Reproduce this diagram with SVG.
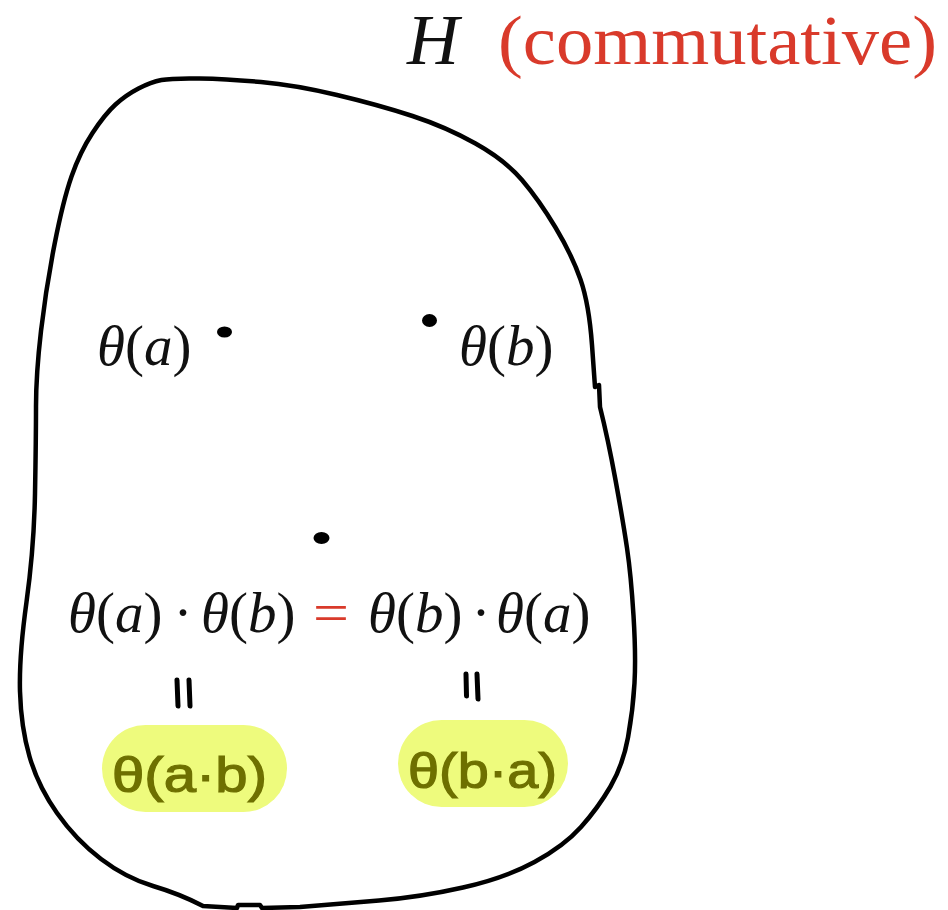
<svg xmlns="http://www.w3.org/2000/svg" width="948" height="910" viewBox="0 0 948 910">
  <style>
    .m { font-family: "Liberation Serif", "DejaVu Serif", serif; font-size: 57px; fill: #111; }
    .i { font-style: italic; }
    .red { fill: #d93a2b; }
    .dot { fill: #000; }
    .hl { fill: #eefb7d; }
    .hw { font-family: "Liberation Sans", "DejaVu Sans", sans-serif; font-size: 50px; fill: #6e7000; stroke: #6e7000; stroke-width: 1.2px; }
    .eqmark { stroke: #000; stroke-width: 5; stroke-linecap: round; fill: none; }
  </style>
  <rect width="948" height="910" fill="#fff"/>

  <g id="title">
    <text x="407" y="64" font-family="Liberation Serif, serif" font-size="72" font-style="italic" fill="#111">H</text>
    <text x="498" y="64" font-family="Liberation Serif, serif" font-size="70" class="red" textLength="439" lengthAdjust="spacingAndGlyphs">(commutative)</text>
  </g>

  <g id="group-H">
    <path d="M 161.5,80 Q 172,78 199.5,78.5 Q 227,79 261,82 Q 295,85 337,95 Q 379,105 412.5,116 Q 446,127 475.5,143.5 Q 505,160 522,180 Q 539,200 555.5,227.5 Q 572,255 580.5,279.5 Q 589,304 592,345 L 595,387 L 599,385 L 600,407 Q 608,439 615.5,480 Q 623,521 627,548 Q 631,575 633.5,615.5 Q 636,656 634.5,683 Q 633,710 628,737.5 Q 623,765 610.5,786.5 Q 598,808 581,827 Q 564,846 534.5,862 Q 505,878 463,887.5 Q 421,897 379,900.5 Q 337,904 300,907 L 262,908 L 260,905 L 238,905 L 237,908 L 203,906 Q 180,894 153,886 Q 126,878 101,859 Q 76,840 57,813 Q 38,786 29.5,756.5 Q 21,727 20,691.5 Q 19,656 26.5,602 Q 34,548 35,493.5 Q 36,439 36,406.5 Q 36,374 41,331 Q 46,288 54.5,244.5 Q 63,201 71.5,176.5 Q 80,152 92.5,133 Q 105,114 115.5,104.5 Q 126,95 138.5,88.5 Q 151,82 161.5,80 Z" fill="none" stroke="#000" stroke-width="4.5" stroke-linejoin="round"/>
  </g>

  <g id="node-theta-a">
    <ellipse class="dot" cx="224.5" cy="332" rx="7.5" ry="5.5"/>
    <text class="m" x="97" y="365"><tspan class="i">θ</tspan>(<tspan class="i">a</tspan>)</text>
  </g>

  <g id="node-theta-b">
    <ellipse class="dot" cx="429.5" cy="320.5" rx="7.5" ry="6.5"/>
    <text class="m" x="459" y="365"><tspan class="i">θ</tspan>(<tspan class="i">b</tspan>)</text>
  </g>

  <g id="node-product">
    <ellipse class="dot" cx="321.5" cy="538" rx="8" ry="6"/>
    <text class="m" x="68" y="632"><tspan class="i">θ</tspan>(<tspan class="i">a</tspan>)</text>
    <text class="m" x="183" y="632" text-anchor="middle">·</text>
    <text class="m" x="201" y="632"><tspan class="i">θ</tspan>(<tspan class="i">b</tspan>)</text>
    <text class="m red" x="313" y="632" textLength="36" lengthAdjust="spacingAndGlyphs">=</text>
    <text class="m" x="368" y="632"><tspan class="i">θ</tspan>(<tspan class="i">b</tspan>)</text>
    <text class="m" x="481" y="632" text-anchor="middle">·</text>
    <text class="m" x="496" y="632"><tspan class="i">θ</tspan>(<tspan class="i">a</tspan>)</text>
  </g>

  <g id="connectors">
    <path class="eqmark" d="M 177,680 L 178,706 M 189,680 L 190,706"/>
    <path class="eqmark" d="M 466,674 L 466.5,696 M 477,674 L 478,699"/>
  </g>

  <g id="node-theta-ab">
    <rect class="hl" x="102" y="725" width="185" height="87" rx="43.5"/>
    <text class="hw" x="112" y="792" textLength="155" lengthAdjust="spacingAndGlyphs">θ(a·b)</text>
  </g>

  <g id="node-theta-ba">
    <rect class="hl" x="398" y="720" width="170" height="87" rx="43.5"/>
    <text class="hw" x="408" y="788" textLength="149" lengthAdjust="spacingAndGlyphs">θ(b·a)</text>
  </g>
</svg>
